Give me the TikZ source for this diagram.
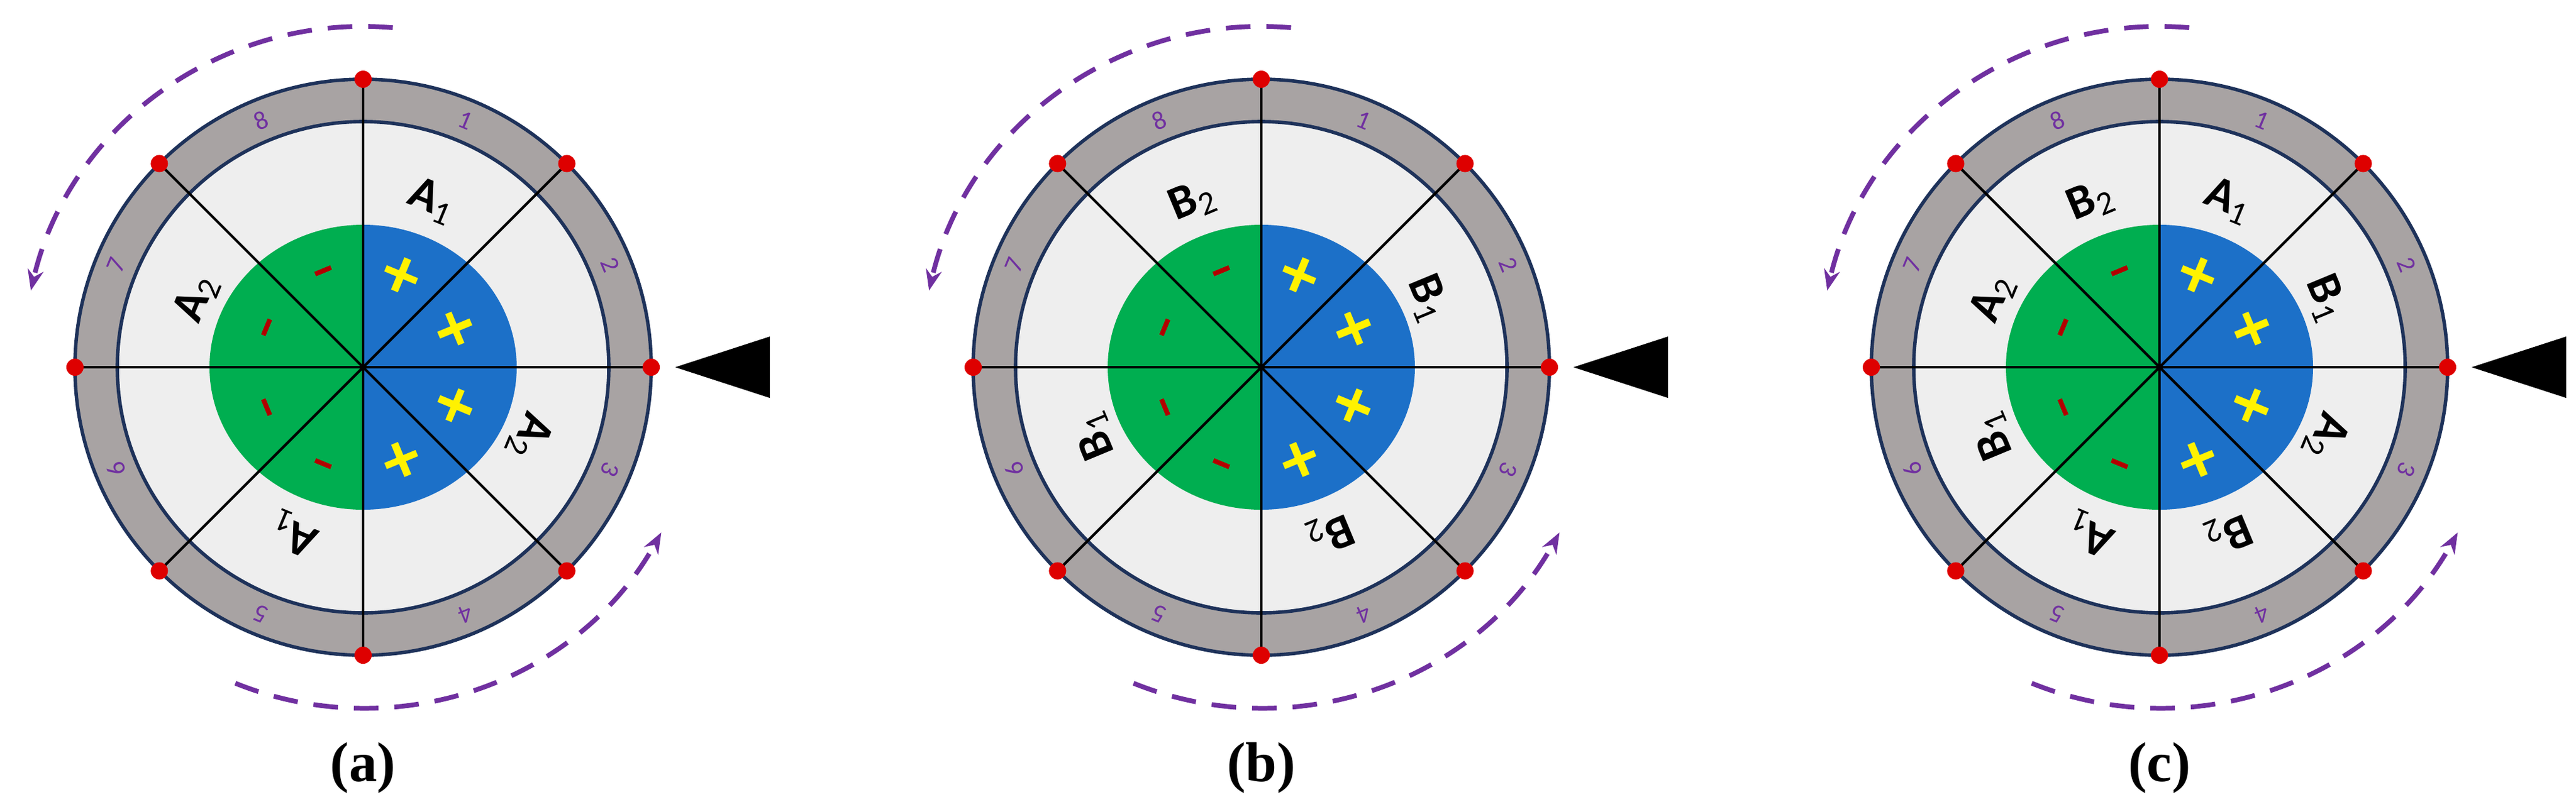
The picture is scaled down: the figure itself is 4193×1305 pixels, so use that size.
\documentclass[tikz,border=0pt]{standalone}
\usepackage{fontspec}
\newfontfamily\sff{Carlito}
\newfontfamily\capf{Liberation Serif}
\usetikzlibrary{arrows.meta}
\definecolor{ringgray}{RGB}{168,163,163}
\definecolor{rimnavy}{RGB}{30,50,90}
\definecolor{padgray}{RGB}{238,238,238}
\definecolor{polegreen}{RGB}{0,174,80}
\definecolor{poleblue}{RGB}{28,112,200}
\definecolor{arcpurple}{RGB}{112,48,160}
\definecolor{dotred}{RGB}{222,0,0}
\tikzset{
    rim/.style={draw=rimnavy, line width=1.6pt},
    spoke/.style={draw=black, line width=1.2pt},
    pin/.style={circle, fill=dotred, inner sep=0pt, minimum size=0.28cm},
    slotnum/.style={text=arcpurple, inner sep=0pt, font=\sff\fontsize{12}{12}\selectfont},
    phase/.style={inner sep=0pt, font=\sff\bfseries\fontsize{22}{22}\selectfont},
    plus/.style={text=yellow, inner sep=0pt, font=\sff\bfseries\fontsize{34}{34}\selectfont},
    minus/.style={draw=red!70!black, line width=2.2pt},
    spin/.style={arcpurple, line width=2.2pt, dash pattern=on 0.4cm off 0.26cm, -{Stealth[length=0.34cm,width=0.26cm]}},
    caption/.style={font=\capf\bfseries\fontsize{26}{26}\selectfont}
}
\newcommand{\ph}[2]{#1\textsubscript{\mdseries #2}}
% one motor: centre x, caption, labels at 67.5, 22.5, -22.5, -67.5, -112.5, -157.5, 157.5, 112.5
\newcommand{\motor}[3]{
    \begin{scope}[shift={(#1,-598)}]
        % rings
        \filldraw[rim, fill=ringgray] (0,0) circle (469);
        \filldraw[rim, fill=padgray] (0,0) circle (400);
        % poles
        \fill[polegreen] (0,232) arc (90:270:250 and 232) -- cycle;
        \fill[poleblue] (0,-232) arc (-90:90:250 and 232) -- cycle;
        % spokes and pins
        \foreach \a in {0,45,...,315} {
            \draw[spoke] (0,0) -- (\a:469);
            \node[pin] (pin#2\a) at (\a:469) {};
        }
        % slot numbers
        \foreach \k in {1,...,8} {
            \pgfmathsetmacro{\ang}{112.5-45*\k}
            \node[slotnum, rotate=\ang-90] (slot#2\k) at (\ang:435) {\k};
        }
        % phase labels
        \foreach \lab [count=\k] in {#3} {
            \pgfmathsetmacro{\ang}{112.5-45*\k}
            \node[phase, rotate=\ang-90] (ph#2\k) at (\ang:293) {\lab};
        }
        % charges
        \foreach \a in {67.5,22.5,-22.5,-67.5} {
            \node[plus, rotate=\a-90] (plus#2\a) at (\a:158) {+};
        }
        \foreach \a in {112.5,157.5,202.5,247.5} {
            \draw[minus] (\a:170) ++(\a-90:14) -- ++(\a+90:28);
        }
        % rotation arcs
        \draw[spin] (85:555) arc (85:167:555);
        \draw[spin] (-112:555) arc (-112:-29:555);
        % pointer
        \fill[black] (508,0) -- (662,50) -- (662,-50) -- cycle;
        \node[caption] (cap#2) at (0,-652) {(#2)};
    \end{scope}
}
\begin{document}
\begin{tikzpicture}[x=0.01cm, y=0.01cm]
    \useasboundingbox (0,0) rectangle (4193,-1305);
    \motor{591}{a}{\ph{A}{1},,\ph{A}{2},,\ph{A}{1},,\ph{A}{2},}
    \motor{2053}{b}{,\ph{B}{1},,\ph{B}{2},,\ph{B}{1},,\ph{B}{2}}
    \motor{3515}{c}{\ph{A}{1},\ph{B}{1},\ph{A}{2},\ph{B}{2},\ph{A}{1},\ph{B}{1},\ph{A}{2},\ph{B}{2}}
\end{tikzpicture}
\end{document}
